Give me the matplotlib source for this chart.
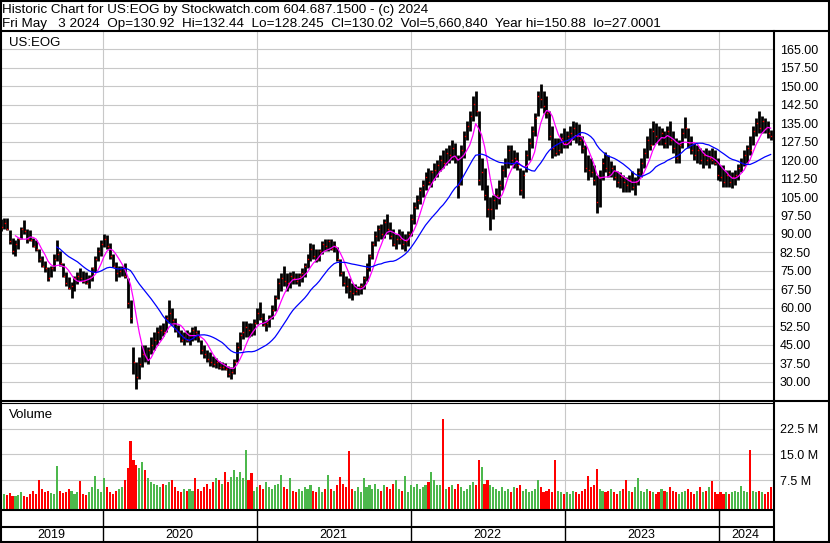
import numpy as np
import pandas as pd
import matplotlib
matplotlib.use("Agg")
import matplotlib.pyplot as plt
import matplotlib.dates as mdates
from matplotlib.ticker import FormatStrFormatter

plt.rcParams['font.family'] = ['Liberation Sans', 'DejaVu Sans']

# =====================
# Data (weekly bars, week ending Friday)
# =====================
week_start = "2019-05-03"
n_weeks = 262

high = [
    96, 96.5, 96.5, 91.5, 88.5, 87.5, 88.5, 93, 95.5, 92,
    91.5, 88.5, 87.5, 84, 81, 79, 76.5, 77, 82, 87.5,
    83, 78, 74.5, 72.5, 70.5, 73, 74.5, 76, 75, 74.5,
    73.5, 76.5, 81, 84.5, 87.5, 90, 89.5, 86.5, 82, 78.5,
    77, 77, 78, 72, 63, 44, 38, 40, 45, 45,
    44, 48, 50, 52, 53, 54, 57, 63, 60, 56,
    53, 51, 50, 51, 50, 52, 52.5, 51, 47, 45,
    43, 42, 40.5, 39.5, 38.5, 38, 37.5, 36.5, 36, 39,
    46, 50, 54.5, 54.5, 54, 54, 55.5, 60, 62.5, 58,
    55, 57, 61, 65, 72, 74, 77, 74, 74.5, 75,
    74, 74, 76, 78, 82, 86.5, 86, 84, 84, 87,
    88, 88, 88, 87, 84.5, 80, 75, 73, 72, 70,
    69.5, 69, 70, 73, 78, 82, 87, 91, 93.5, 94,
    96, 98, 95, 92, 90, 92, 91, 90, 91, 98,
    103, 106, 109, 112, 115, 117, 116, 119, 120, 122,
    124, 125, 126, 128, 127, 122, 126, 132, 136, 140,
    146, 148, 140, 121, 117, 110, 105, 106, 108.5, 112,
    118, 121, 126, 126, 124, 123.5, 117, 116, 124, 129,
    134, 139, 148, 150.88, 148, 146, 140, 134, 129, 129,
    131, 133, 132, 134, 136, 135.5, 134.5, 130, 126, 122,
    121, 118, 114, 116, 121, 123.5, 122, 119.5, 118, 115.5,
    115, 114, 113, 114, 115.5, 113, 117, 121, 125, 130,
    133, 136, 135, 134, 133, 132, 134, 136, 132, 129,
    128, 133, 137.5, 133, 130, 127, 126, 125, 124, 125,
    124, 125, 124, 121, 118, 118, 116, 116, 115, 116,
    118.5, 121, 124, 126, 130, 134, 137, 140, 138, 137,
    136, 132.44,
]

low = [
    91, 92, 91.5, 86, 82, 81, 84, 88, 90, 86.5,
    87, 84.5, 83, 78.5, 76.5, 74.5, 71, 72.5, 75, 79,
    77, 72.5, 69, 67.5, 64, 67, 69.5, 71, 70, 69.5,
    68, 71, 74.5, 79, 81, 84.5, 84, 80, 76.5, 71,
    72.5, 73, 72, 60, 54, 33, 27.0001, 31, 36, 38,
    37, 41, 43, 45, 47, 48.5, 50, 54, 53, 50,
    48, 46, 45, 46, 45, 46.5, 47, 46, 41, 39.5,
    38, 36.5, 36, 35.5, 35, 34.5, 34.5, 32, 31, 33,
    38, 43, 47.5, 48, 48, 48.5, 49, 53.5, 55, 52.5,
    50.5, 52, 55.5, 58.5, 63.5, 67, 69, 67, 68, 69.5,
    69.5, 69, 70.5, 72.5, 76, 79, 80, 78.5, 79, 82,
    83, 83, 83.5, 82.5, 79, 73, 69, 66, 64, 63,
    65, 65, 65.5, 67.5, 71, 75, 80, 85, 87, 88,
    88.5, 90, 88, 85, 84, 86, 84, 83, 85, 89,
    94, 100, 102, 105, 108, 110, 109, 112, 113, 115.5,
    117, 118, 119, 120, 119, 104.5, 110, 121, 128, 132,
    136, 138, 110, 108, 104, 97, 91.5, 96, 100, 102,
    108, 113, 117, 118, 117, 116, 106, 104.5, 115, 120,
    125, 130, 138, 141, 139, 137, 128, 121, 121.5, 122,
    123, 125, 125, 126, 128, 127, 126, 123, 115, 112,
    113, 110, 98.5, 101, 112, 115, 113, 113, 112, 109,
    108.5, 107, 107, 107, 108, 106, 110, 113, 117, 121,
    124, 126, 127, 126, 126, 125, 125, 126, 123, 119,
    119, 125, 129, 125, 122.5, 120, 119, 118.5, 117, 118,
    117, 118.5, 118, 112, 111.5, 109, 109, 109, 108.8, 110,
    112, 115, 117.5, 119, 122, 126, 130, 131, 131, 131,
    129, 128.245,
]

close = [
    93, 94.5, 92, 87, 83, 86, 88, 92, 91, 88,
    87.5, 85, 84, 80, 77, 76, 72, 76, 80, 82,
    78, 73, 70, 68, 69, 72, 73, 72, 71, 70,
    72, 76, 80, 83, 86, 88, 85, 81, 77, 74,
    75, 76, 73, 62, 56, 38, 32, 37, 41, 40,
    43, 45, 47, 50, 51, 50, 56, 58, 55, 51,
    50, 47, 48, 47, 49, 51, 50, 48, 43, 41,
    39, 38, 37, 38, 36, 36, 35, 33, 34, 38,
    44, 49, 50, 52, 51, 50, 54, 58, 56, 53,
    54, 56, 59, 64, 70, 72, 71, 70, 73, 72,
    71, 73, 74, 77, 80, 84, 81, 80, 83, 86,
    85, 87, 84, 85, 80, 74, 70, 69, 67, 66,
    67, 68, 69, 72, 76, 81, 86, 89, 92, 90,
    95, 92, 89, 86, 88, 88, 86, 87, 90, 96,
    101, 104, 108, 110, 113, 111, 115, 116, 118, 120,
    119, 123, 122, 125, 121, 110, 124, 130, 134, 138,
    143, 140, 112, 115, 106, 100, 100, 104, 106, 110,
    116, 119, 124, 120, 121, 118, 108, 114, 122, 127,
    132, 137, 146, 145, 142, 139, 130, 125, 123, 124,
    129, 127, 130, 131, 133, 130, 128, 125, 117, 116,
    115, 112, 103, 113, 119, 117, 115, 117, 113, 111,
    113, 111, 110, 112, 109, 111, 115, 119, 123, 128,
    126, 132, 130, 128, 131, 127, 132, 128, 125, 121,
    126, 131, 133, 127, 124, 122, 124, 120, 122, 120,
    121, 120, 119, 114, 113, 111, 114, 111, 113, 114,
    117, 119, 122, 125, 124, 132, 135, 133, 136, 133,
    131, 130.02,
]

# volume in millions of shares
volume = [
    3.0, 3.5, 3.2, 3.8, 3.0, 2.8, 3.3, 4.0, 3.0, 2.7,
    3.4, 4.5, 3.5, 7.5, 5.0, 4.2, 4.5, 3.8, 3.5, 11.5,
    4.5, 3.8, 4.2, 5.0, 4.5, 3.5, 4.0, 7.2, 3.5, 3.2,
    4.0, 5.5, 8.7, 5.0, 4.0, 8.0, 5.5, 4.0, 3.5, 4.5,
    5.0, 5.5, 7.5, 11.0, 18.75, 13.5, 12.0, 11.0, 12.8, 10.4,
    8.0, 7.0, 6.5, 6.0, 5.5, 6.5, 6.0, 7.0, 7.5, 5.5,
    4.5, 4.0, 5.0, 4.5, 5.0, 4.5, 8.0, 5.0, 4.5, 5.5,
    6.5, 5.0, 7.0, 8.0, 7.5, 6.5, 9.9, 7.0, 8.5, 10.6,
    8.5, 9.9, 8.0, 16.2, 7.5, 9.6, 4.5, 5.5, 6.0, 5.0,
    7.0, 5.5, 5.0, 6.0, 6.5, 9.0, 5.5, 5.0, 8.0, 4.5,
    4.0, 5.0, 4.5, 5.5, 5.0, 6.0, 4.5, 4.0, 5.5, 4.0,
    5.0, 9.0, 5.0, 4.5, 6.0, 8.5, 6.5, 5.5, 15.9, 5.0,
    4.5, 5.5, 4.0, 8.0, 5.5, 6.0, 5.0, 6.5, 5.0, 4.5,
    6.0, 5.5, 5.0, 6.5, 7.5, 5.0, 4.5, 8.7, 4.0, 6.0,
    5.5, 6.5, 5.0, 5.5, 6.0, 7.0, 9.9, 7.5, 6.0, 6.0,
    25.4, 5.0, 5.5, 6.0, 5.0, 6.5, 5.5, 4.5, 5.0, 6.0,
    7.0, 6.0, 13.3, 11.3, 6.5, 7.5, 6.0, 5.5, 5.0, 4.5,
    5.5, 4.5, 5.0, 4.0, 5.5, 5.1, 6.0, 4.5, 5.0, 4.0,
    4.5, 5.0, 7.5, 5.5, 4.0, 4.5, 5.0, 4.0, 13.3, 4.5,
    4.0, 3.5, 4.0, 3.5, 4.5, 4.0, 3.5, 4.5, 5.0, 8.6,
    5.5, 6.0, 10.7, 5.0, 4.5, 4.0, 4.5, 5.0, 4.0, 3.5,
    4.5, 5.0, 7.6, 4.5, 4.0, 5.5, 8.0, 4.5, 4.0, 5.0,
    4.5, 4.0, 3.5, 4.0, 5.0, 4.5, 4.0, 5.5, 4.5, 4.0,
    3.5, 4.0, 4.5, 5.0, 4.0, 3.5, 4.5, 5.5, 4.0, 4.5,
    5.5, 7.2, 4.0, 3.5, 4.0, 3.5, 4.0, 3.5, 4.0, 4.5,
    4.0, 5.8, 4.5, 4.0, 16.4, 4.5, 4.0, 4.5, 4.0, 3.5,
    4.0, 5.66,
]

year_labels = ['2019', '2020', '2021', '2022', '2023', '2024']
year_bounds = ['2020-01-01', '2021-01-01', '2022-01-01', '2023-01-01', '2024-01-01']
price_ticks = [30, 37.5, 45, 52.5, 60, 67.5, 75, 82.5, 90, 97.5, 105, 112.5,
               120, 127.5, 135, 142.5, 150, 157.5, 165]
vol_ticks = [7.5, 15.0, 22.5]
vol_tick_labels = ['7.5 M', '15.0 M', '22.5 M']

header1 = "Historic Chart for US:EOG by Stockwatch.com 604.687.1500 - (c) 2024"
header2 = ("Fri May   3 2024  Op=130.92  Hi=132.44  Lo=128.245  Cl=130.02  "
           "Vol=5,660,840  Year hi=150.88  lo=27.0001")

# =====================
# Derived series
# =====================
dates = pd.date_range(week_start, periods=n_weeks, freq='7D')
xd = mdates.date2num(dates)
close_s = pd.Series(close)
ma_fast = close_s.rolling(6).mean()    # ~30 day
ma_slow = close_s.rolling(20).mean()   # ~100 day
vol_col = ['#4cb84c'] + ['#4cb84c' if close[i] >= close[i - 1] else '#ff0000'
                         for i in range(1, n_weeks)]

x_lo = mdates.date2num(pd.Timestamp('2019-05-06'))
x_hi = mdates.date2num(pd.Timestamp('2024-05-08 14:00'))
bounds = mdates.date2num(pd.to_datetime(year_bounds))

# =====================
# Layout (pixel based)
# =====================
W, H = 830, 543
fig = plt.figure(figsize=(W / 100, H / 100), dpi=100)
fig.patch.set_facecolor('white')


def box(x0, y0, x1, y1):
    return [x0 / W, 1 - y1 / H, (x1 - x0) / W, (y1 - y0) / H]


grid_col = '#c8c8c8'

# --- price panel ---
ax_p = fig.add_axes(box(2, 31, 773, 400))
ax_p.vlines(xd, low, high, color='black', lw=2.0, zorder=2)
ax_p.plot(xd + 2.0, close, ls='none', marker='s', ms=1.0, mfc='red', mec='none', zorder=3)
ax_p.plot(xd, ma_fast, color='#ff00ff', lw=0.9, zorder=4)
ax_p.plot(xd, ma_slow, color='#0000ff', lw=0.9, zorder=4)
ax_p.set_xlim(x_lo, x_hi)
ax_p.set_ylim(22.5, 172.5)
ax_p.set_yticks(price_ticks)
ax_p.yaxis.set_major_formatter(FormatStrFormatter('%.2f'))
ax_p.yaxis.tick_right()
ax_p.tick_params(axis='y', length=0, pad=5, labelsize=9)
ax_p.set_xticks(bounds)
ax_p.tick_params(axis='x', length=0, labelbottom=False)
ax_p.grid(True, color=grid_col, lw=0.8)
ax_p.set_axisbelow(True)
for s in ax_p.spines.values():
    s.set_visible(False)

# --- volume panel ---
vol_base = -1.0
ax_v = fig.add_axes(box(2, 403, 773, 509.5))
ax_v.bar(xd, np.array(volume) - vol_base, bottom=vol_base, width=5,
         color=vol_col, linewidth=0, zorder=2)
ax_v.set_xlim(x_lo, x_hi)
ax_v.set_ylim(vol_base, 29.9)
ax_v.set_yticks(vol_ticks)
ax_v.set_yticklabels(vol_tick_labels)
ax_v.yaxis.tick_right()
ax_v.tick_params(axis='y', length=0, pad=5, labelsize=9)
ax_v.set_xticks(bounds)
ax_v.tick_params(axis='x', length=0, labelbottom=False)
ax_v.grid(True, color=grid_col, lw=0.8)
ax_v.set_axisbelow(True)
for s in ax_v.spines.values():
    s.set_visible(False)

# --- date strip ---
ax_d = fig.add_axes(box(2, 509.5, 773, 541))
ax_d.set_xlim(x_lo, x_hi)
ax_d.set_ylim(541, 509.5)
ax_d.axis('off')
ax_d.vlines(bounds, 509.5, 541, color='black', lw=1.0)
edges = [x_lo] + list(bounds) + [x_hi]
for lab, a, b in zip(year_labels, edges[:-1], edges[1:]):
    ax_d.text((a + b) / 2 - 2, 535, lab, ha='center', va='center', fontsize=9)

# --- frame lines and header ---
ov = fig.add_axes([0, 0, 1, 1], zorder=10)
ov.set_xlim(0, W)
ov.set_ylim(H, 0)
ov.axis('off')
lw2 = 1.5
ov.plot([0, W], [1, 1], color='black', lw=lw2)
ov.plot([0, W], [H - 1, H - 1], color='black', lw=lw2)
ov.plot([1, 1], [0, H], color='black', lw=lw2)
ov.plot([W - 1, W - 1], [0, H], color='black', lw=lw2)
ov.plot([0, W], [30.5, 30.5], color='black', lw=lw2)
ov.plot([773.5, 773.5], [31, H], color='black', lw=lw2)
ov.plot([0, W], [400.5, 400.5], color='black', lw=lw2)
ov.plot([0, 773], [403, 403], color='black', lw=0.8)
ov.plot([0, 773], [510, 510], color='black', lw=lw2)
ov.plot([0, 773], [526.5, 526.5], color='black', lw=lw2)

ov.text(2, 13, header1, fontsize=9.7, va='baseline', ha='left')
ov.text(2, 26.5, header2, fontsize=9.7, va='baseline', ha='left')
ov.text(9, 46.5, 'US:EOG', fontsize=9.5, va='baseline', ha='left')
ov.text(9, 418, 'Volume', fontsize=9.5, va='baseline', ha='left')

fig.savefig('out.png', dpi=100)
